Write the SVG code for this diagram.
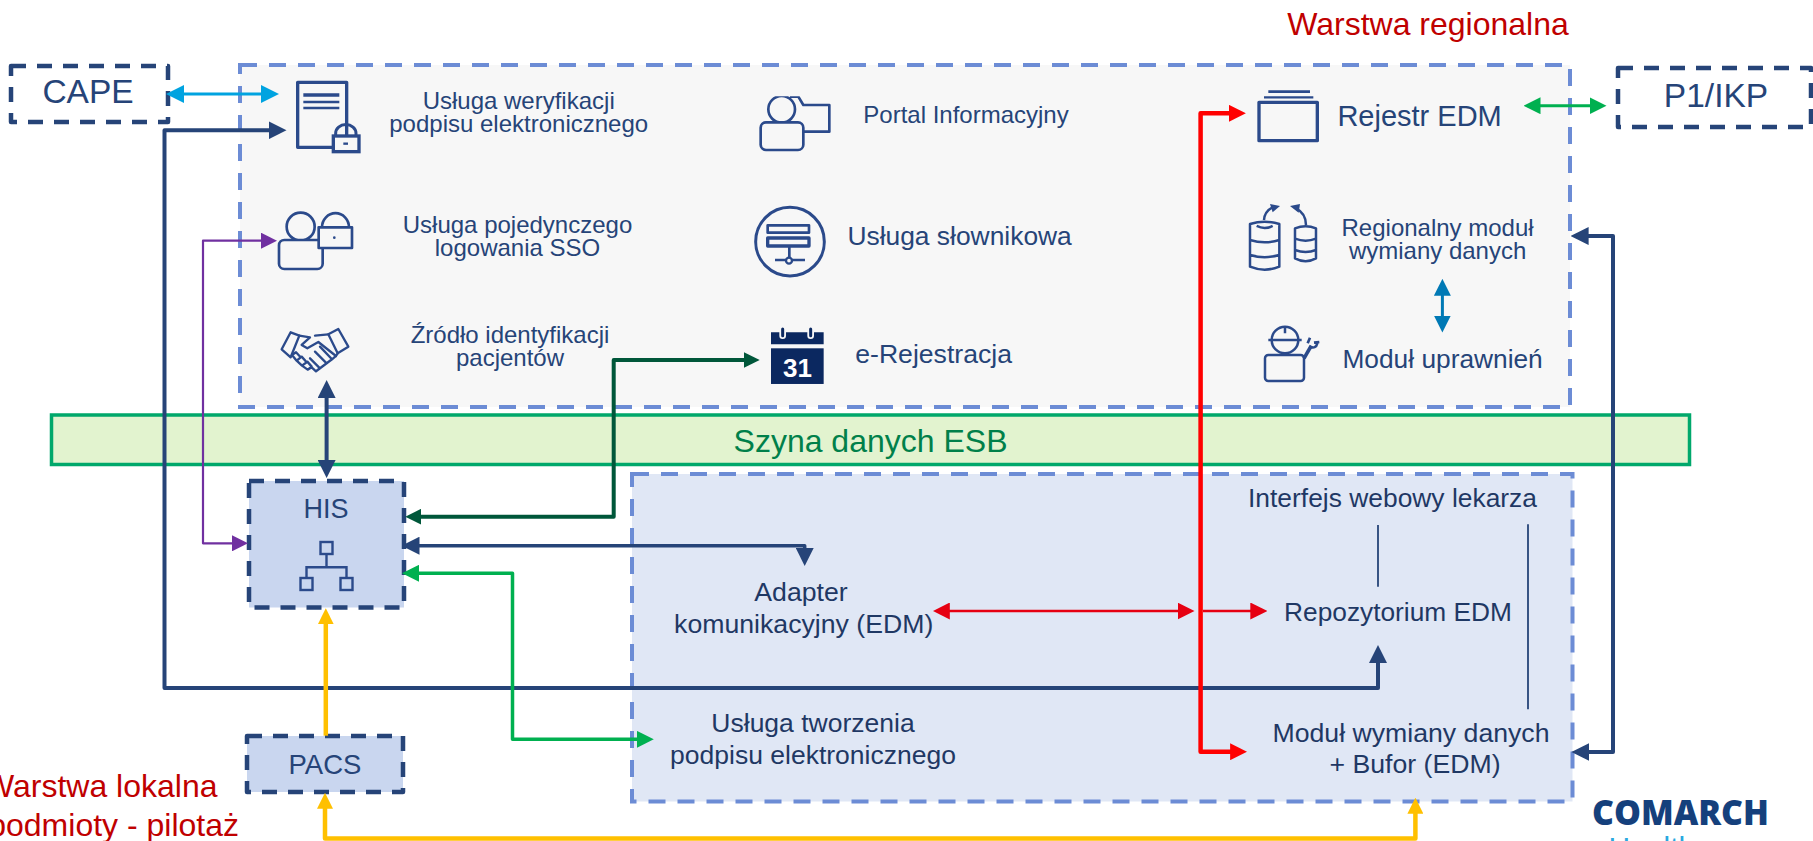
<svg xmlns="http://www.w3.org/2000/svg" width="1813" height="841" viewBox="0 0 1813 841">
<style>
text{font-family:"Liberation Sans",Arial,sans-serif;fill:#264478;text-anchor:middle}
.low{fill:#1F3864}
.red{fill:#C00000}
.area{stroke:#6C8CD5;stroke-width:4;stroke-dasharray:17 12}
.sys{stroke:#264478;stroke-width:4.5;stroke-dasharray:15 11;stroke-linejoin:round}
.ic{fill:none;stroke:#2B4A8B;stroke-width:8;stroke-linejoin:round}
.ib{fill:#F7F7F7;stroke:#2B4A8B;stroke-width:8;stroke-linejoin:round}
.c{fill:none;stroke-linejoin:round}
</style>
<defs>
<marker id="mNavy" viewBox="0 0 16 16" markerWidth="18" markerHeight="18" markerUnits="userSpaceOnUse" refX="8" refY="8" orient="auto-start-reverse"><path d="M0,0L16,8L0,16z" fill="#264478"/></marker>
<marker id="mCyan" viewBox="0 0 16 16" markerWidth="18" markerHeight="18" markerUnits="userSpaceOnUse" refX="8" refY="8" orient="auto-start-reverse"><path d="M0,0L16,8L0,16z" fill="#00A3E0"/></marker>
<marker id="mPurple" viewBox="0 0 16 16" markerWidth="16" markerHeight="16" markerUnits="userSpaceOnUse" refX="8" refY="8" orient="auto-start-reverse"><path d="M0,0L16,8L0,16z" fill="#7030A0"/></marker>
<marker id="mDark" viewBox="0 0 16 16" markerWidth="16" markerHeight="16" markerUnits="userSpaceOnUse" refX="8" refY="8" orient="auto-start-reverse"><path d="M0,0L16,8L0,16z" fill="#00573A"/></marker>
<marker id="mGreen" viewBox="0 0 16 16" markerWidth="17" markerHeight="17" markerUnits="userSpaceOnUse" refX="8" refY="8" orient="auto-start-reverse"><path d="M0,0L16,8L0,16z" fill="#00B050"/></marker>
<marker id="mYellow" viewBox="0 0 16 16" markerWidth="16" markerHeight="16" markerUnits="userSpaceOnUse" refX="8" refY="8" orient="auto-start-reverse"><path d="M0,0L16,8L0,16z" fill="#FFC000"/></marker>
<marker id="mRed" viewBox="0 0 16 16" markerWidth="17" markerHeight="17" markerUnits="userSpaceOnUse" refX="8" refY="8" orient="auto-start-reverse"><path d="M0,0L16,8L0,16z" fill="#FF0000"/></marker>
<marker id="mRed2" viewBox="0 0 16 16" markerWidth="17" markerHeight="17" markerUnits="userSpaceOnUse" refX="8" refY="8" orient="auto-start-reverse"><path d="M0,0L16,8L0,16z" fill="#E60012"/></marker>
<marker id="mBlue" viewBox="0 0 16 16" markerWidth="17" markerHeight="17" markerUnits="userSpaceOnUse" refX="8" refY="8" orient="auto-start-reverse"><path d="M0,0L16,8L0,16z" fill="#0079B5"/></marker>
<clipPath id="portalClip"><rect x="40" y="34" width="250" height="170"/></clipPath>
</defs>

<g id="warstwa-regionalna">
<rect class="area" x="240" y="65" width="1330" height="342" fill="#F7F7F7"/>
<text class="red" x="1428" y="35" font-size="32">Warstwa regionalna</text>
</g>
<g id="szyna-esb">
<rect x="51.5" y="415" width="1638" height="49.5" fill="#E2F3CF" stroke="#00A86B" stroke-width="3.5"/>
<text x="870.5" y="451.5" font-size="32" style="fill:#00804A">Szyna danych ESB</text>
</g>
<g id="warstwa-dolna">
<rect class="area" x="632" y="474" width="940.5" height="327.5" fill="#E0E7F5"/>
</g>
<g id="warstwa-lokalna">
<text class="red" x="217.5" y="797.3" font-size="32" style="text-anchor:end">Warstwa lokalna</text>
<text class="red" x="239" y="836" font-size="32" style="text-anchor:end">podmioty - pilotaż</text>
</g>

<g id="cape"><rect class="sys" x="11" y="66" width="157" height="56" fill="#fff"/><text x="88" y="102.7" font-size="33.5">CAPE</text></g>
<g id="p1-ikp"><rect class="sys" x="1618" y="68" width="193" height="59" fill="#fff"/><text x="1716" y="107" font-size="33.5">P1/IKP</text></g>

<g id="his">
<rect class="sys" x="249" y="481" width="155" height="126.5" fill="#C9D6EF"/>
<text x="326" y="518.3" font-size="27">HIS</text>
<g fill="none" stroke="#2B4A8B" stroke-width="2.4">
<rect x="320.5" y="542" width="12" height="12"/><rect x="300.5" y="578" width="12" height="12"/><rect x="340.5" y="578" width="12" height="12"/>
<path d="M326.5,554V567.3M306.5,578V567.3H346.5V578"/>
</g>
</g>
<g id="pacs"><rect class="sys" x="247" y="736" width="156" height="56" fill="#C9D6EF"/><text x="325" y="774" font-size="27.5">PACS</text></g>

<g id="usluga-weryfikacji">
<g transform="translate(270 70) scale(.3333)">
<rect class="ic" x="83" y="37" width="147" height="195" style="stroke-width:10"/>
<path d="M100,75H208" stroke="#2B4A8B" stroke-width="11"/><path d="M100,96H208M100,114H208" stroke="#2B4A8B" stroke-width="8"/>
<path class="ic" d="M197,198V190A30,26 0 0 1 258,190V198" style="stroke-width:9"/>
<rect x="190" y="198" width="77" height="47" fill="#F7F7F7" stroke="#2B4A8B" stroke-width="10"/>
<path d="M220,221H234" stroke="#2B4A8B" stroke-width="7"/>
</g>
<text x="518.7" y="109.3" font-size="24">Usługa weryfikacji</text>
<text x="518.7" y="131.7" font-size="24">podpisu elektronicznego</text>
</g>

<g id="usluga-sso">
<g transform="translate(270 70) scale(.3333)">
<circle class="ic" cx="92" cy="470" r="42"/>
<rect class="ib" x="27" y="510" width="131" height="87" rx="16"/>
<path class="ic" d="M156,472A40,42 0 0 1 237,472"/>
<rect class="ib" x="146" y="472" width="100" height="62"/>
<circle cx="193" cy="503" r="4" fill="#2B4A8B"/>
</g>
<text x="517.5" y="232.7" font-size="24">Usługa pojedynczego</text>
<text x="517.5" y="255.7" font-size="24">logowania SSO</text>
</g>

<g id="zrodlo-identyfikacji">
<g transform="translate(270 70) scale(.3333)" fill="none" stroke="#2B4A8B" stroke-width="7" stroke-linejoin="round" stroke-linecap="round">
<path d="M62,787L88,797L62,862L35,838Z"/>
<path d="M205,777L235,830L203,850L175,793Z"/>
<path d="M88,797L120,802L95,825L112,835L145,816L198,858M175,793L135,797"/>
<path d="M66,855L78,847L92,862L80,872ZM80,872L95,860L110,877L96,887ZM96,887L112,875L125,890L113,899ZM113,899L125,892L138,904L150,895M150,895L120,865M170,880L135,845M186,868L150,830M198,858L203,850M150,895L170,880L186,868L198,858"/>
</g>
<text x="510" y="342.7" font-size="24">Źródło identyfikacji</text>
<text x="510" y="365.7" font-size="24">pacjentów</text>
</g>

<g id="portal-informacyjny">
<g transform="translate(740 85) scale(.3333)">
<g clip-path="url(#portalClip)">
<path class="ic" d="M150,35L175,35L190,60H268V140H190"/>
<circle class="ib" cx="125" cy="73" r="40"/>
</g>
<rect class="ib" x="62" y="112" width="128" height="83" rx="16"/>
</g>
<text x="966" y="123" font-size="24">Portal Informacyjny</text>
</g>

<g id="usluga-slownikowa">
<g transform="translate(740 85) scale(.3333)">
<circle class="ic" cx="150" cy="470" r="103" style="stroke-width:9"/>
<rect class="ic" x="83" y="421" width="124" height="22"/>
<rect class="ic" x="83" y="459" width="124" height="24" style="stroke-width:10"/>
<path d="M148,483V518M105,525H195" stroke="#2B4A8B" stroke-width="8" fill="none"/>
<circle cx="147" cy="527" r="9" fill="#F7F7F7" stroke="#2B4A8B" stroke-width="7"/>
</g>
<text x="959.6" y="245" font-size="26.4">Usługa słownikowa</text>
</g>

<g id="e-rejestracja">
<g transform="translate(740 85) scale(.3333)">
<path d="M93,742H251V778H93Z" fill="#0B2860"/>
<path d="M128,730V752M212,730V752" stroke="#F7F7F7" stroke-width="20" stroke-linecap="round"/>
<path d="M128,732V752M212,732V752" stroke="#0B2860" stroke-width="9" stroke-linecap="round"/>
<rect x="93" y="790" width="158" height="107" fill="#0B2860"/>
</g>
<text x="797.5" y="377" font-size="26" font-weight="bold" style="fill:#fff">31</text>
<text x="933.6" y="362.7" font-size="26.6">e-Rejestracja</text>
</g>

<g id="rejestr-edm">
<g transform="translate(1240 80) scale(.3333)">
<rect class="ic" x="57" y="67" width="175" height="115" style="stroke-width:10"/>
<path d="M85,35H210" stroke="#2B4A8B" stroke-width="8"/><path d="M72,52H220" stroke="#2B4A8B" stroke-width="7"/>
</g>
<text x="1419.6" y="126" font-size="29">Rejestr EDM</text>
</g>

<g id="regionalny-modul">
<g transform="translate(1240 80) scale(.3333)" fill="none" stroke="#2B4A8B" stroke-width="7.5" stroke-linejoin="round">
<path d="M30,432Q74,418 118,432V560Q74,578 30,560ZM30,480Q74,494 118,480M30,525Q74,538 118,525M50,438Q74,450 98,438"/>
<path d="M165,445Q197,432 228,445V535Q197,552 165,535ZM165,476Q197,488 228,476M165,510Q197,522 228,510"/>
<path d="M72,420Q74,392 102,380M198,435Q198,400 168,385"/>
<path d="M90,372L120,378L98,397Z" fill="#2B4A8B" stroke="none"/><path d="M150,378L180,372L176,398Z" fill="#2B4A8B" stroke="none"/>
</g>
<text x="1437.6" y="236" font-size="24">Regionalny moduł</text>
<text x="1437.6" y="258.7" font-size="24">wymiany danych</text>
</g>

<g id="modul-uprawnien">
<g transform="translate(1240 80) scale(.3333)" fill="none" stroke="#2B4A8B" stroke-width="7.5" stroke-linejoin="round">
<circle cx="135" cy="780" r="40"/>
<path d="M85,780H185M135,738V760"/>
<rect x="75" y="825" width="117" height="78" rx="10"/>
<path d="M192,835L214,797" stroke-width="11"/>
<path d="M203,790L210,773M222,788L238,786M208,800Q228,808 232,790" stroke-width="8"/>
</g>
<text x="1442.6" y="367.7" font-size="26.3">Moduł uprawnień</text>
</g>

<g id="interfejs-webowy"><text class="low" x="1392.5" y="506.7" font-size="26.4">Interfejs webowy lekarza</text></g>
<g id="repozytorium-edm"><text class="low" x="1398" y="620.7" font-size="26.3">Repozytorium EDM</text></g>
<g id="modul-wymiany">
<text class="low" x="1411" y="741.7" font-size="26.67">Moduł wymiany danych</text>
<text class="low" x="1415" y="773.3" font-size="26.67">+ Bufor (EDM)</text>
</g>
<g id="adapter">
<text class="low" x="801" y="601" font-size="26.67">Adapter</text>
<text class="low" x="803.7" y="633.3" font-size="26.67">komunikacyjny (EDM)</text>
</g>
<g id="usluga-tworzenia">
<text class="low" x="813" y="731.7" font-size="26.5">Usługa tworzenia</text>
<text class="low" x="813" y="764.3" font-size="26.5">podpisu elektronicznego</text>
</g>

<g id="comarch-logo">
<text x="1680.5" y="825" font-size="36" font-weight="800" textLength="177" lengthAdjust="spacingAndGlyphs" style="font-family:'Open Sans','Liberation Sans',sans-serif;fill:#15407C">COMARCH</text>
<text x="1681" y="858" font-size="30" style="fill:#29A9E0">Healthcare</text>
</g>

<g id="connectors">
<path class="c" d="M1378,525V586.7" stroke="#264478" stroke-width="1.8"/>
<path class="c" d="M1528,524.3V709.3" stroke="#264478" stroke-width="1.8"/>
<path class="c" d="M175,94H270" stroke="#00A3E0" stroke-width="3" marker-start="url(#mCyan)" marker-end="url(#mCyan)"/>
<path class="c" d="M1378,654V688H164.5V130.3H277.5" stroke="#264478" stroke-width="4" marker-start="url(#mNavy)" marker-end="url(#mNavy)"/>
<path class="c" d="M269,240.7H203V543.3H240" stroke="#7030A0" stroke-width="2.2" marker-start="url(#mPurple)" marker-end="url(#mPurple)"/>
<path class="c" d="M326.6,389V469" stroke="#264478" stroke-width="4" marker-start="url(#mNavy)" marker-end="url(#mNavy)"/>
<path class="c" d="M751.7,360H613.7V516.7H413.3" stroke="#00573A" stroke-width="4" marker-start="url(#mDark)" marker-end="url(#mDark)"/>
<path class="c" d="M410.5,545.7H804.7V557" stroke="#264478" stroke-width="3.5" marker-start="url(#mNavy)" marker-end="url(#mNavy)"/>
<path class="c" d="M410.5,573.3H512.5V739.3H645.3" stroke="#00B050" stroke-width="3.5" marker-start="url(#mGreen)" marker-end="url(#mGreen)"/>
<path class="c" d="M325.8,735.7V616.3" stroke="#FFC000" stroke-width="4.5" marker-end="url(#mYellow)"/>
<path class="c" d="M325,800.7V838.5H1415.4V805.7" stroke="#FFC000" stroke-width="4.5" marker-start="url(#mYellow)" marker-end="url(#mYellow)"/>
<path class="c" d="M1237.4,113.3H1200.6V751.7H1238.6" stroke="#FF0000" stroke-width="4.5" marker-start="url(#mRed)" marker-end="url(#mRed)"/>
<path class="c" d="M941.3,611H1186" stroke="#E60012" stroke-width="2.5" marker-start="url(#mRed2)" marker-end="url(#mRed2)"/>
<path class="c" d="M1203,611H1258.8" stroke="#E60012" stroke-width="2.5" marker-end="url(#mRed2)"/>
<path class="c" d="M1579.6,236H1613V752H1580.4" stroke="#264478" stroke-width="4" marker-start="url(#mNavy)" marker-end="url(#mNavy)"/>
<path class="c" d="M1532,105.7H1598" stroke="#00B050" stroke-width="3" marker-start="url(#mGreen)" marker-end="url(#mGreen)"/>
<path class="c" d="M1442.4,287.3V324" stroke="#0079B5" stroke-width="3" marker-start="url(#mBlue)" marker-end="url(#mBlue)"/>
</g>
</svg>
